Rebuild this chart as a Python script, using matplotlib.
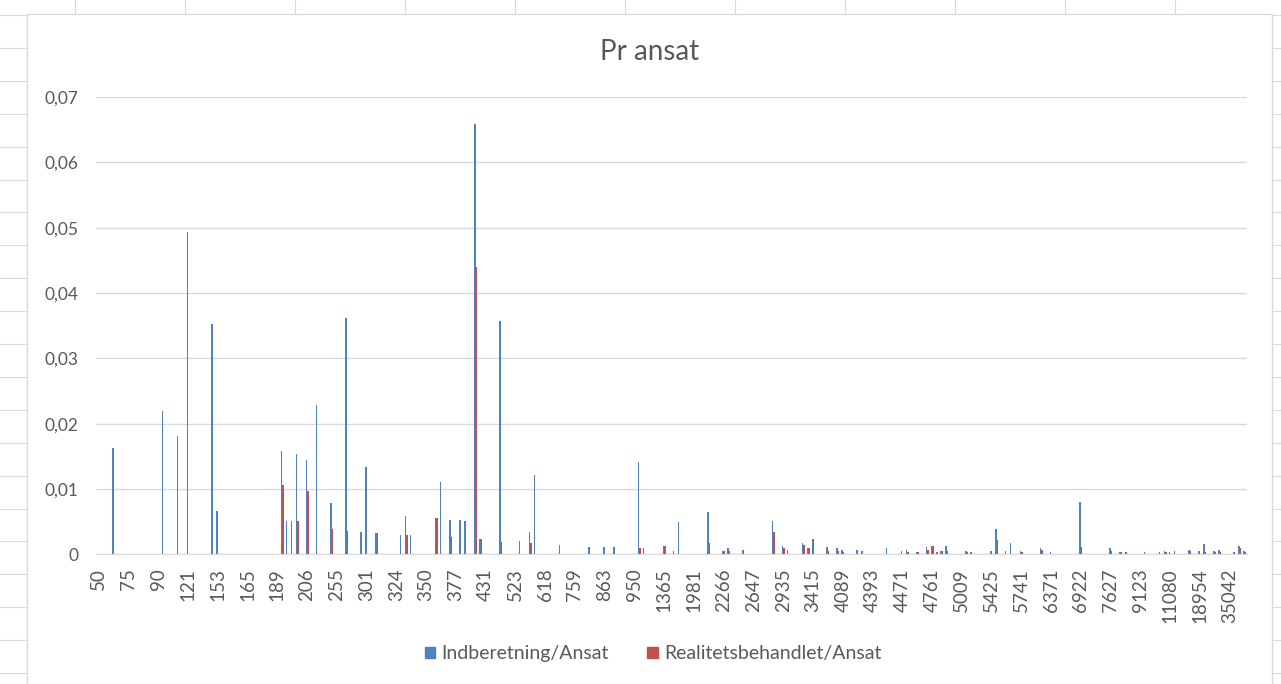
import matplotlib.pyplot as plt
import numpy as np
from matplotlib.lines import Line2D
from matplotlib.patches import Rectangle, Patch

plt.rcParams['font.family'] = ['Lato', 'DejaVu Sans']

# category positions (0..231), only every 6th category is labelled on the axis
n_cats = 232
tick_labels = ['50', '75', '90', '121', '153', '165', '189', '206', '255', '301',
               '324', '350', '377', '431', '523', '618', '759', '863', '950', '1365',
               '1981', '2266', '2647', '2935', '3415', '4089', '4393', '4471', '4761',
               '5009', '5425', '5741', '6371', '6922', '7627', '9123', '11080',
               '18954', '35042']

cat_idx = [3, 13, 16, 18, 23, 24, 37, 38, 39, 40, 42, 44, 47, 50, 53, 54, 56,
           61, 62, 63, 68, 69, 71, 73, 74, 76, 77, 81, 85, 87, 88, 93, 99, 102,
           104, 109, 110, 114, 116, 117, 123, 126, 127, 130, 136, 138, 139, 142,
           143, 144, 147, 149, 150, 153, 154, 159, 162, 163, 165, 167, 168, 169,
           170, 171, 175, 176, 180, 181, 183, 184, 186, 190, 192, 198, 204, 206,
           207, 211, 214, 215, 216, 217, 220, 222, 223, 225, 226, 229, 230, 231]

indberetning = [0.0163, 0.0219, 0.0181, 0.0494, 0.0352, 0.0066, 0.0158, 0.0051,
                0.0051, 0.0154, 0.0145, 0.0228, 0.0078, 0.0361, 0.0034, 0.0133,
                0.0032, 0.0030, 0.0059, 0.0030, 0.0055, 0.0110, 0.0053, 0.0053,
                0.0051, 0.0659, 0.0023, 0.0357, 0.0020, 0.0034, 0.0121, 0.0015,
                0.0011, 0.0011, 0.0011, 0.0141, 0.0009, 0.0013, 0.0005, 0.0049,
                0.0064, 0.0005, 0.0009, 0.0007, 0.0051, 0.0013, 0.0007, 0.0017,
                0.0009, 0.0023, 0.0011, 0.0009, 0.0007, 0.0007, 0.0005, 0.0009,
                0.0005, 0.0007, 0.0003, 0.0011, 0.0013, 0.0003, 0.0005, 0.0013,
                0.0005, 0.0003, 0.0005, 0.0039, 0.0005, 0.0017, 0.0005, 0.0009,
                0.0003, 0.0080, 0.0009, 0.0003, 0.0, 0.0003, 0.0003, 0.0005,
                0.0003, 0.0005, 0.0007, 0.0005, 0.0016, 0.0005, 0.0007, 0.0003,
                0.0013, 0.0005]

realitet = [0, 0, 0, 0, 0, 0, 0.0106, 0, 0, 0.0051, 0.0097, 0, 0.0038, 0.0036,
            0, 0, 0.0032, 0, 0.0030, 0, 0.0055, 0, 0.0026, 0, 0, 0.0440, 0.0023,
            0.0019, 0, 0.0017, 0, 0, 0, 0, 0, 0.0009, 0, 0.0013, 0, 0, 0.0017,
            0.0005, 0.0005, 0, 0.0034, 0.0009, 0, 0.0015, 0.0009, 0.0023, 0.0005,
            0.0005, 0.0003, 0, 0, 0, 0, 0.0003, 0.0003, 0.0007, 0.0013, 0.0003,
            0.0005, 0.0005, 0.0003, 0, 0, 0.0022, 0, 0, 0.0003, 0.0007, 0, 0.0011,
            0.0005, 0.0003, 0.0003, 0, 0, 0.0003, 0, 0, 0.0005, 0, 0.0003, 0.0003,
            0.0003, 0, 0.0009, 0.0003]

blue = '#4F81BD'
red = '#C0504D'
txt = '#595959'

W, H = 1281, 684
fig = plt.figure(figsize=(W / 100, H / 100), dpi=100)

# spreadsheet cell lines around the chart object
for x in [75, 185, 295, 405, 515, 625, 735, 845, 955, 1065, 1175]:
    fig.add_artist(Line2D([x / W, x / W], [1, 1 - 14 / H], color='#dadada', lw=0.8, zorder=-3))
for n in range(21):
    y = 1 - (15 + 32.9 * n) / H
    fig.add_artist(Line2D([0, 27 / W], [y, y], color='#dadada', lw=0.8, zorder=-3))
    fig.add_artist(Line2D([1272 / W, 1], [y, y], color='#dadada', lw=0.8, zorder=-3))

fig.add_artist(Rectangle((27 / W, -0.02), (1272 - 27) / W, 1.02 - 14 / H,
                         facecolor='white', edgecolor='#d9d9d9', lw=1,
                         transform=fig.transFigure, zorder=-2))

ax = fig.add_axes([96.3 / W, 1 - 554.3 / H, 1150.7 / W, (554.3 - 97) / H])
ax.set_facecolor('none')

x = np.array(cat_idx)
ax.bar(x - 0.15, indberetning, width=0.3, color=blue, lw=0)
ax.bar(x + 0.15, realitet, width=0.3, color=red, lw=0)

ax.set_xlim(-0.5, n_cats - 0.5)
ax.set_ylim(0, 0.07)
ax.set_yticks(np.arange(0, 0.0701, 0.01))
ax.set_yticklabels(['0' if v == 0 else f'{v:.2f}'.replace('.', ',')
                    for v in np.arange(0, 0.0701, 0.01)])
ax.set_xticks(np.arange(0, len(tick_labels) * 6, 6))
ax.set_xticklabels(tick_labels, rotation=90, va='top', ha='center')

ax.yaxis.grid(True, color='#d9d9d9', lw=1)
ax.set_axisbelow(True)
for s in ['top', 'right', 'left']:
    ax.spines[s].set_visible(False)
ax.spines['bottom'].set_color('#d9d9d9')
ax.tick_params(axis='both', length=0, labelcolor=txt)
ax.tick_params(axis='x', pad=10, labelsize=13.5)
ax.tick_params(axis='y', pad=13, labelsize=12.5)

fig.text(650 / W, 1 - 52 / H, 'Pr ansat', ha='center', va='center',
         fontsize=20, color=txt)

handles = [Patch(color=blue, label='Indberetning/Ansat'),
           Patch(color=red, label='Realitetsbehandlet/Ansat')]
fig.legend(handles=handles, loc='center', bbox_to_anchor=(653 / W, 1 - 654 / H),
           ncol=2, frameon=False, fontsize=14, labelcolor=txt,
           handlelength=0.55, handleheight=0.55, handletextpad=0.3,
           columnspacing=2.0)

fig.savefig('out.png', dpi=100)
